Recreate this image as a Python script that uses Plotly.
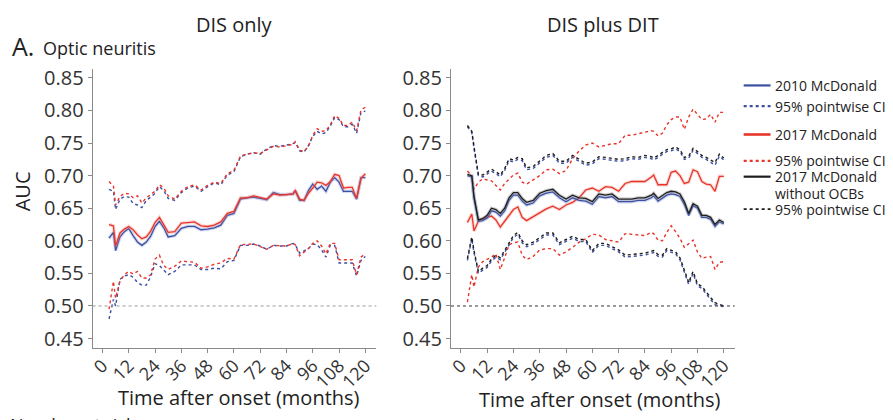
import plotly.graph_objects as go

W, H = 893, 420

months = [3, 5, 6, 8, 10, 12, 14, 16, 18, 20, 22, 24, 26, 28, 30, 33, 36, 39, 42, 45,
          48, 51, 54, 57, 60, 63, 66, 69, 72, 75, 78, 81, 84, 87, 88, 90, 92, 94, 96, 98,
          100, 102, 104, 106, 108, 110, 112, 114, 116, 118, 120]

# ---- DIS only ----
dis_2010 = [.604, .613, .585, .606, .614, .619, .608, .598, .593, .598, .607, .622, .630, .620, .606, .608, .619, .622, .622, .617,
            .618, .620, .624, .639, .642, .664, .666, .667, .665, .663, .674, .671, .671, .672, .677, .662, .662, .677, .687, .679,
            .684, .676, .690, .697, .690, .676, .676, .676, .664, .697, .697]
dis_2010_hi = [.679, .676, .648, .664, .668, .667, .657, .655, .651, .662, .667, .673, .683, .677, .665, .662, .674, .681, .684, .676,
               .683, .689, .686, .701, .706, .729, .733, .735, .733, .741, .746, .745, .747, .749, .751, .738, .736, .746, .760, .768,
               .764, .766, .776, .789, .786, .775, .775, .779, .765, .797, .799]
dis_2010_lo = [.480, .510, .500, .541, .546, .548, .544, .536, .532, .532, .545, .565, .562, .555, .548, .553, .563, .563, .563, .556,
               .556, .558, .557, .568, .570, .593, .593, .595, .592, .587, .593, .592, .592, .596, .594, .581, .584, .588, .595, .594,
               .586, .575, .593, .593, .566, .566, .566, .566, .546, .570, .576]
dis_2017 = [.625, .623, .592, .612, .618, .622, .617, .609, .603, .606, .615, .628, .636, .625, .613, .614, .627, .628, .629, .623,
            .622, .624, .629, .642, .645, .666, .666, .669, .666, .664, .672, .670, .671, .672, .677, .664, .662, .673, .681, .690,
            .689, .685, .691, .702, .700, .681, .682, .682, .665, .696, .703]
dis_2017_hi = [.691, .684, .655, .668, .673, .672, .666, .669, .658, .666, .671, .676, .686, .681, .669, .664, .676, .683, .686, .678,
               .685, .690, .688, .703, .708, .730, .733, .735, .734, .740, .745, .744, .746, .748, .752, .739, .737, .745, .762, .772,
               .768, .769, .778, .792, .788, .777, .777, .782, .769, .801, .805]
dis_2017_lo = [.495, .538, .512, .538, .548, .553, .549, .553, .543, .543, .548, .572, .578, .562, .556, .561, .569, .568, .567, .558,
               .560, .564, .566, .573, .572, .594, .594, .595, .591, .587, .593, .592, .592, .596, .594, .577, .582, .588, .596, .600,
               .592, .580, .596, .596, .571, .571, .571, .571, .548, .575, .580]

# ---- DIS plus DIT ----
dit_2010 = [.700, .698, .665, .630, .631, .635, .646, .644, .638, .646, .662, .670, .670, .661, .655, .658, .669, .673, .675, .666,
            .660, .666, .662, .661, .656, .668, .666, .668, .660, .660, .660, .662, .662, .666, .669, .661, .665, .670, .672, .671,
            .668, .656, .639, .654, .650, .636, .636, .633, .622, .629, .626]
dit_2010_hi = [.775, .766, .742, .700, .698, .702, .707, .703, .698, .708, .723, .721, .725, .723, .709, .711, .720, .728, .731, .719,
               .719, .728, .722, .716, .718, .726, .725, .723, .722, .723, .726, .725, .728, .726, .724, .728, .733, .737, .738, .741,
               .737, .725, .727, .739, .734, .728, .725, .721, .716, .730, .724]
dit_2010_lo = [.570, .603, .582, .550, .555, .559, .569, .575, .571, .583, .595, .605, .610, .597, .591, .595, .602, .609, .609, .594,
               .599, .604, .599, .599, .582, .593, .593, .588, .583, .575, .576, .577, .578, .581, .582, .576, .575, .585, .583, .580,
               .571, .553, .533, .550, .531, .527, .518, .510, .502, .500, .499]
dit_2017 = [.628, .641, .615, .630, .634, .636, .638, .632, .621, .630, .640, .648, .652, .636, .631, .637, .642, .649, .653, .648,
            .655, .659, .666, .678, .681, .676, .683, .682, .676, .688, .691, .691, .691, .698, .701, .686, .686, .686, .705, .707,
            .700, .688, .690, .709, .706, .691, .687, .686, .676, .699, .699]
dit_2017_hi = [.707, .700, .679, .690, .695, .694, .692, .685, .678, .688, .695, .701, .704, .690, .687, .693, .700, .709, .710, .703,
               .708, .726, .738, .747, .750, .744, .747, .749, .749, .762, .762, .764, .767, .769, .768, .761, .765, .778, .786, .790,
               .790, .771, .790, .802, .794, .786, .787, .794, .782, .797, .797]
dit_2017_lo = [.506, .548, .529, .560, .568, .571, .575, .580, .556, .574, .594, .597, .598, .578, .571, .576, .586, .588, .588, .578,
               .583, .590, .598, .603, .610, .609, .602, .600, .598, .611, .610, .609, .608, .613, .611, .601, .600, .613, .623, .614,
               .604, .590, .595, .601, .583, .573, .575, .576, .556, .567, .568]
dit_noocb = [.702, .700, .668, .632, .634, .639, .650, .648, .642, .650, .666, .674, .674, .665, .659, .662, .673, .677, .679, .670,
             .664, .670, .666, .665, .660, .672, .670, .672, .664, .664, .664, .666, .666, .670, .673, .665, .669, .674, .676, .675,
             .672, .660, .642, .657, .653, .639, .639, .636, .625, .632, .628]
dit_noocb_hi = [.777, .768, .745, .702, .701, .705, .710, .706, .701, .711, .726, .724, .728, .726, .712, .714, .723, .731, .734, .722,
                .722, .731, .725, .719, .721, .729, .728, .726, .725, .726, .729, .728, .731, .729, .727, .731, .736, .740, .741, .744,
                .740, .728, .730, .742, .737, .731, .728, .724, .720, .733, .727]
dit_noocb_lo = [.573, .606, .585, .553, .558, .562, .572, .578, .574, .586, .598, .608, .613, .600, .594, .598, .605, .612, .612, .597,
                .602, .607, .602, .602, .585, .596, .596, .591, .586, .578, .579, .580, .581, .584, .585, .579, .578, .588, .586, .583,
                .574, .556, .536, .553, .534, .530, .521, .513, .505, .503, .500]

yticks = [0.45, 0.50, 0.55, 0.60, 0.65, 0.70, 0.75, 0.80, 0.85]
xticks = [0, 12, 24, 36, 48, 60, 72, 84, 96, 108, 120]

legend_labels = ["2010 McDonald", "95% pointwise CI", "2017 McDonald", "95% pointwise CI",
                 "2017 McDonald", "95% pointwise CI"]
legend_extra = "without OCBs"

BLUE, BLUE_H = "#3d4fa3", "rgba(120,145,215,0.35)"
RED, RED_H = "#e8352b", "rgba(240,130,120,0.30)"
BLACK, BLACK_H = "#1e1e1e", "rgba(130,130,130,0.35)"
FONT = "Open Sans"

fig = go.Figure()


def main_line(y, color, halo, xa, ya):
    fig.add_trace(go.Scatter(x=months, y=y, mode="lines", line=dict(color=halo, width=3.5),
                             xaxis=xa, yaxis=ya, showlegend=False, hoverinfo="skip"))
    fig.add_trace(go.Scatter(x=months, y=y, mode="lines", line=dict(color=color, width=1.3),
                             xaxis=xa, yaxis=ya, showlegend=False))


def ci_line(y, color, xa, ya):
    fig.add_trace(go.Scatter(x=months, y=y, mode="lines", line=dict(color=color, width=1.4, dash="dot"),
                             xaxis=xa, yaxis=ya, showlegend=False))


# left panel
ci_line(dis_2010_hi, BLUE, "x", "y")
ci_line(dis_2010_lo, BLUE, "x", "y")
ci_line(dis_2017_hi, RED, "x", "y")
ci_line(dis_2017_lo, RED, "x", "y")
main_line(dis_2010, BLUE, BLUE_H, "x", "y")
main_line(dis_2017, RED, RED_H, "x", "y")

# right panel
ci_line(dit_2017_hi, RED, "x2", "y2")
ci_line(dit_2017_lo, RED, "x2", "y2")
ci_line(dit_2010_hi, BLUE, "x2", "y2")
ci_line(dit_2010_lo, BLUE, "x2", "y2")
ci_line(dit_noocb_hi, BLACK, "x2", "y2")
ci_line(dit_noocb_lo, BLACK, "x2", "y2")
main_line(dit_2017, RED, RED_H, "x2", "y2")
main_line(dit_2010, BLUE, BLUE_H, "x2", "y2")
main_line(dit_noocb, BLACK, BLACK_H, "x2", "y2")


def px_x(p):
    return p / W


def px_y(p):
    return 1 - p / H


xr = [-4.5, 125]
yr = [0.435, 0.864]
ax_common = dict(showgrid=False, zeroline=False, showline=True, linecolor="#8a8a8a", linewidth=1,
                 ticks="outside", ticklen=4, tickcolor="#8a8a8a")
xax = dict(ax_common, range=xr, tickvals=xticks, tickangle=-45, fixedrange=True,
           ticklabelstandoff=-5, tickfont=dict(family=FONT, size=18, color="#333333"))
yax = dict(ax_common, range=yr, tickvals=yticks, ticktext=[f"{v:.2f}" for v in yticks],
           tickfont=dict(family=FONT, size=20, color="#333333"))

fig.update_layout(
    width=W, height=H, margin=dict(l=0, r=0, t=0, b=0),
    paper_bgcolor="white", plot_bgcolor="white", showlegend=False,
    xaxis=dict(xax, domain=[px_x(89), px_x(374)], anchor="y"),
    yaxis=dict(yax, domain=[px_y(350), px_y(65)], anchor="x"),
    xaxis2=dict(xax, domain=[px_x(449), px_x(734)], anchor="y2"),
    yaxis2=dict(yax, domain=[px_y(350), px_y(65)], anchor="x2"),
)

# reference lines at AUC 0.5
fig.add_shape(type="line", xref="x domain", yref="y", x0=0, x1=1, y0=0.5, y1=0.5,
              line=dict(color="#9a9a9a", width=1, dash="dot"))
fig.add_shape(type="line", xref="x2 domain", yref="y2", x0=0, x1=1, y0=0.5, y1=0.5,
              line=dict(color="#333333", width=1, dash="dot"))

ann = []


def text(s, x, y, size, xanchor="center", yanchor="middle", angle=0):
    ann.append(dict(text=s, x=px_x(x), y=px_y(y), xref="paper", yref="paper", showarrow=False,
                    xanchor=xanchor, yanchor=yanchor, textangle=angle,
                    font=dict(family=FONT, size=size, color="#222222")))


text("DIS only", 232, 20, 20)
text("DIS plus DIT", 602, 20, 20)
text("A.", 6, 42, 25, xanchor="left")
text("Optic neuritis", 37, 44, 18, xanchor="left")
text("AUC", 18, 190, 20, angle=-90)
text("Time after onset (months)", 236, 400, 20)
text("Time after onset (months)", 599, 402, 20)
text("Number at risk", 4, 428, 18, xanchor="left")

# legend (drawn by hand to match the reference spacing)
leg_styles = [(BLUE, "solid", 2.2), (BLUE, "dot", 2.2), (RED, "solid", 2.6), (RED, "dot", 2.2),
              (BLACK, "solid", 2.2), (BLACK, "dot", 1.8)]
leg_line_y = [82, 103, 132, 159, 175, 208]
for (c, d, w), ly, lab in zip(leg_styles, leg_line_y, legend_labels):
    fig.add_shape(type="line", xref="paper", yref="paper", x0=px_x(743), x1=px_x(770),
                  y0=px_y(ly), y1=px_y(ly), line=dict(color=c, width=w, dash=d))
    text(lab, 772, ly, 14, xanchor="left")
text(legend_extra, 772, 192, 14, xanchor="left")

fig.update_layout(annotations=ann)
fig.write_html("out.html", config={"displayModeBar": False},
               post_script="document.body.style.margin='0px';")
